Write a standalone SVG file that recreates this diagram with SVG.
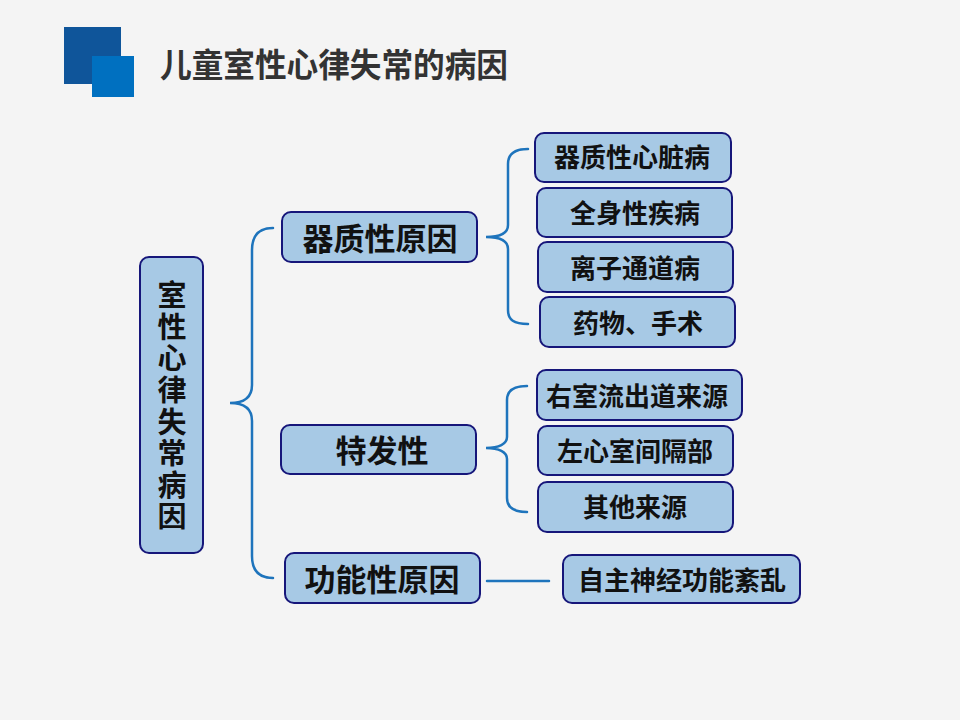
<svg xmlns="http://www.w3.org/2000/svg" width="960" height="720" viewBox="0 0 960 720">
<style>
.box{fill:#A7C9E5;stroke:#16167A;stroke-width:2}
.t{font-family:"Noto Sans CJK SC","Microsoft YaHei",sans-serif;font-weight:bold;fill:#111;text-anchor:middle;dominant-baseline:central}
.l2{font-size:31px}
.l3{font-size:26px}
.br{fill:none;stroke:#1E74BC;stroke-width:2.5;stroke-linecap:round}
</style>
<rect x="0" y="0" width="960" height="720" fill="#F4F4F4"/>
<g id="header">
<rect x="64" y="27" width="57" height="57" fill="#0F559A"/>
<rect x="92" y="56" width="42" height="41" fill="#0070C0"/>
<text x="160" y="63" font-family="'Noto Sans CJK SC',sans-serif" font-weight="bold" font-size="33" fill="#333" dominant-baseline="central" textLength="348" lengthAdjust="spacingAndGlyphs">儿童室性心律失常的病因</text>
</g>
<g id="connectors">
<path class="br" d="M273,228 C258,228 252,236 252,250 L252,385 C252,397 244,403 230,403 C244,403 252,409 252,421 L252,556 C252,570 258,578 273,578"/>
<path class="br" d="M528,149 C514,149 508,154 508,164 L508,225 C508,233 500,237 486,237 C500,237 508,241 508,249 L508,310 C508,320 514,324 528,324"/>
<path class="br" d="M527,386 C513,386 507,391 507,400 L507,437 C507,444 499,448 486,448 C499,448 507,452 507,459 L507,498 C507,507 513,512 527,512"/>
<path class="br" d="M487,581 L549,581"/>
</g>
<g id="root">
<rect class="box" x="140" y="257" width="63" height="296" rx="9"/>
<text class="t" font-size="29" x="172" y="407" writing-mode="vertical-rl" letter-spacing="2.6">室性心律失常病因</text>
</g>
<g id="n-organic">
<rect class="box" x="282" y="212" width="195" height="50" rx="9"/>
<text class="t l2" x="380" y="236">器质性原因</text>
</g>
<g id="n-idiopathic">
<rect class="box" x="281" y="425" width="195" height="49" rx="9"/>
<text class="t l2" x="382" y="448">特发性</text>
</g>
<g id="n-functional">
<rect class="box" x="285" y="553" width="195" height="50" rx="9"/>
<text class="t l2" x="382" y="577">功能性原因</text>
</g>
<g id="n-heart">
<rect class="box" x="535" y="133" width="196" height="49" rx="9"/>
<text class="t l3" x="632" y="155">器质性心脏病</text>
</g>
<g id="n-systemic">
<rect class="box" x="537" y="188" width="195" height="49" rx="9"/>
<text class="t l3" x="635" y="211">全身性疾病</text>
</g>
<g id="n-channel">
<rect class="box" x="538" y="242" width="195" height="50" rx="9"/>
<text class="t l3" x="635" y="266">离子通道病</text>
</g>
<g id="n-drug">
<rect class="box" x="540" y="297" width="195" height="50" rx="9"/>
<text class="t l3" x="638" y="321">药物、手术</text>
</g>
<g id="n-rvot">
<rect class="box" x="537" y="370" width="205" height="50" rx="9"/>
<text class="t l3" x="637" y="394">右室流出道来源</text>
</g>
<g id="n-lv">
<rect class="box" x="538" y="426" width="195" height="49" rx="9"/>
<text class="t l3" x="635" y="449">左心室间隔部</text>
</g>
<g id="n-other">
<rect class="box" x="538" y="482" width="195" height="50" rx="9"/>
<text class="t l3" x="635" y="505">其他来源</text>
</g>
<g id="n-autonomic">
<rect class="box" x="563" y="555" width="237" height="48" rx="9"/>
<text class="t l3" x="682" y="578">自主神经功能紊乱</text>
</g>
</svg>
